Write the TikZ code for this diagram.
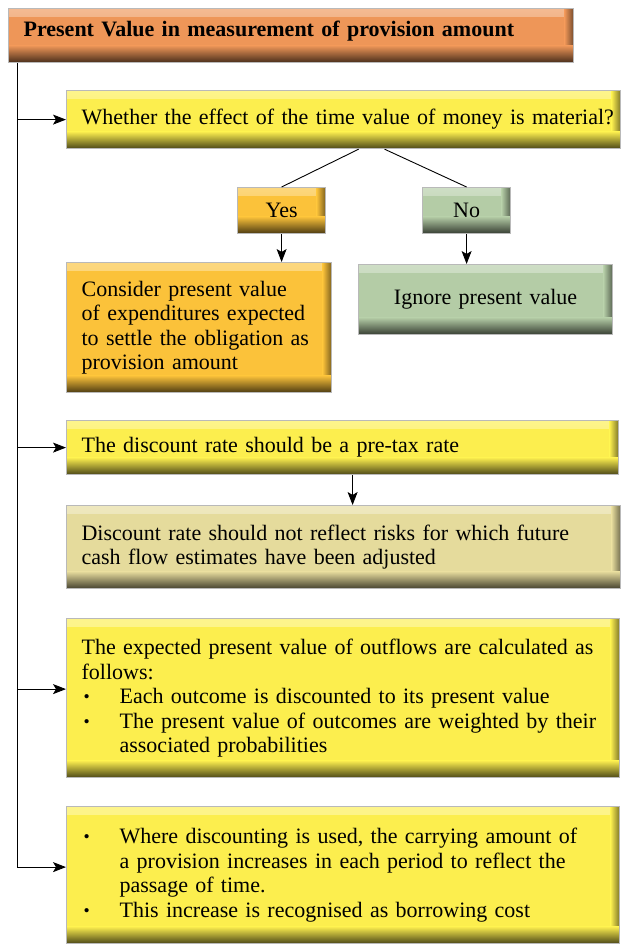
\documentclass[tikz,border=0pt]{standalone}
\usepackage{fontspec}
\setmainfont{Liberation Serif}
\usepackage{graphicx}
\usetikzlibrary{arrows.meta}

\definecolor{titleorange}{RGB}{238,150,88}
\definecolor{boxyellow}{RGB}{252,238,78}
\definecolor{boxorange}{RGB}{251,194,58}
\definecolor{boxgreen}{RGB}{180,204,166}
\definecolor{boxkhaki}{RGB}{229,219,156}

\newcommand{\bodyfont}{\fontsize{22}{24.5}\selectfont}
\newcommand{\bul}{\makebox[38pt][l]{\hspace{2pt}\raisebox{1pt}{\scalebox{0.8}{\textbullet}}}}

\begin{document}
\begin{tikzpicture}[
    x = 1pt, y = -1pt,
    every node/.style = {font = \bodyfont},
    panel/.style      = {draw = gray!55, line width = 1.2pt, anchor = north west, inner xsep = 14pt, inner ysep = 0pt,
                         align = left, fill = #1,
                         path picture = {
                           \shade[top color = white!35!#1, bottom color = #1]
                             (path picture bounding box.north west) rectangle ([yshift = -8pt]path picture bounding box.north east);
                           \shade[left color = #1, right color = #1!50!black]
                             ([xshift = -9pt]path picture bounding box.north east) rectangle (path picture bounding box.south east);
                           \shade[top color = #1, bottom color = #1!30!black]
                             ([yshift = 17pt]path picture bounding box.south west) rectangle (path picture bounding box.south east);
                         }},
    choice/.style     = {panel = #1, align = center, inner xsep = 0pt},
    arr/.style        = {-{Stealth[length = 13pt, width = 10pt, inset = 3pt]}, line width = 0.9pt},
    link/.style       = {line width = 0.9pt},
]
\useasboundingbox (0,0) rectangle (621,945);

% ---------- heading ----------
\node[panel = titleorange, minimum width = 565pt, minimum height = 54pt, text width = 535pt, text depth = 14pt,
      font = \bodyfont\bfseries] (title) at (8,8) {Present Value in measurement of provision amount};

% ---------- materiality question ----------
\node[panel = boxyellow, minimum width = 554pt, minimum height = 58pt, text width = 524pt] (q) at (66,90)
    {\mbox{Whether the effect of the time value of money is material?}};

\node[choice = boxorange, minimum width = 88pt, minimum height = 46pt, text width = 86pt] (yes) at (237,187) {Yes};
\node[choice = boxgreen,  minimum width = 88pt, minimum height = 46pt, text width = 86pt] (no)  at (422,187) {No};

\node[panel = boxorange, minimum width = 265pt, minimum height = 130pt, text width = 235pt] (pv) at (66,262)
    {Consider present value\\ of expenditures expected\\ to settle the obligation as\\ provision amount};
\node[choice = boxgreen, minimum width = 254pt, minimum height = 70pt, text width = 250pt] (ignore) at (358,264)
    {Ignore present value};

% ---------- discount rate ----------
\node[panel = boxyellow, minimum width = 552pt, minimum height = 54pt, text width = 522pt] (rate) at (66,420)
    {The discount rate should be a pre-tax rate};
\node[panel = boxkhaki, minimum width = 554pt, minimum height = 83pt, text width = 524pt] (risk) at (66,505)
    {Discount rate should not reflect risks for which future\\ cash flow estimates have been adjusted};

% ---------- expected value and unwinding ----------
\node[panel = boxyellow, minimum width = 553pt, minimum height = 159pt, text width = 523pt] (calc) at (66,618)
    {The expected present value of outflows are calculated as\\ follows:\\
     \bul Each outcome is discounted to its present value\\
     \bul The present value of outcomes are weighted by their\\ \hspace*{38pt}associated probabilities};
\node[panel = boxyellow, minimum width = 553pt, minimum height = 137pt, text width = 523pt] (cost) at (66,806)
    {\bul Where discounting is used, the carrying amount of\\ \hspace*{38pt}a provision increases in each period to reflect the\\ \hspace*{38pt}passage of time.\\
     \bul This increase is recognised as borrowing cost};

% ---------- connectors ----------
\coordinate (spine)  at ([xshift = 9pt]title.south west);
\coordinate (calcin) at ([yshift = 9pt]calc.west);
\coordinate (costin) at ([yshift = 8pt]cost.west);
\draw[arr] (spine) |- (costin);
\draw[arr] (spine |- q.west) -- (q.west);
\draw[arr] (spine |- rate.west) -- (rate.west);
\draw[arr] (spine |- calcin) -- (calcin);

\draw[link] ([xshift = 15pt]q.south) -- (yes.north);
\draw[link] ([xshift = 41pt]q.south) -- (no.north);
\draw[arr] (yes.south) -- (yes.south |- pv.north);
\draw[arr] (no.south) -- (no.south |- ignore.north);
\draw[arr] ([xshift = 10pt]rate.south) -- ([xshift = 10pt]rate.south |- risk.north);

\end{tikzpicture}
\end{document}
